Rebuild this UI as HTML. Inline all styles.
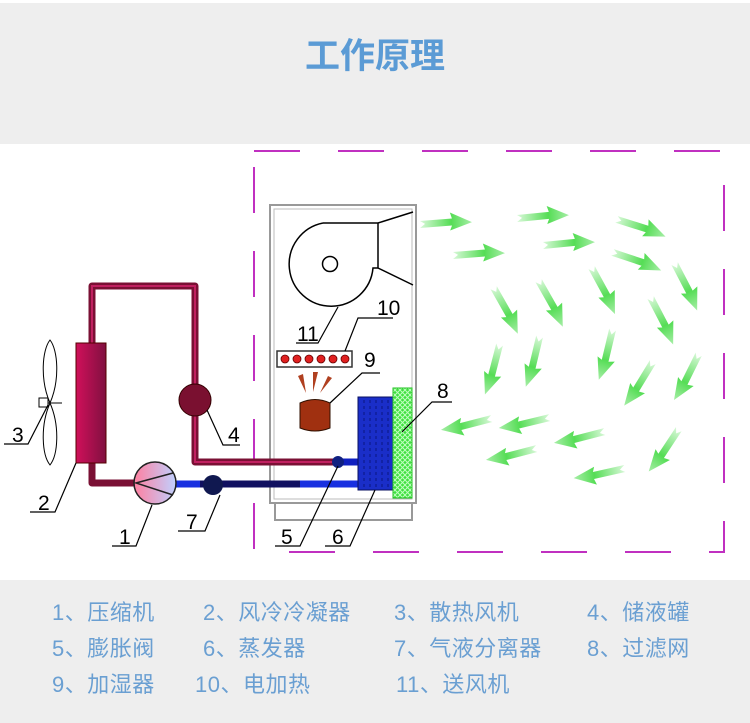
<!DOCTYPE html>
<html><head><meta charset="utf-8"><style>
body{margin:0;width:750px;height:723px;overflow:hidden;background:#fff;font-family:"Liberation Sans","Noto Sans CJK SC",sans-serif;}
.hdr{position:absolute;left:0;top:3px;width:750px;height:141px;background:#eeeeee;}
.title{position:absolute;left:0;width:750px;top:25px;text-align:center;font-size:35px;font-weight:bold;color:#5b9bd5;}
.leg{position:absolute;left:0;top:580px;width:750px;height:143px;background:#eeeeee;}
.l{position:absolute;font-size:22px;letter-spacing:0.5px;color:#6a9fd2;white-space:nowrap;}
svg{position:absolute;left:0;top:0}
</style></head><body>
<div class="hdr"><div class="title">工作原理</div></div>
<svg width="750" height="723" viewBox="0 0 750 723">
<defs>
<linearGradient id="g" x1="0" x2="1" y1="0" y2="0"><stop offset="0" stop-color="#d8f8d8"/><stop offset="0.6" stop-color="#55dd55"/><stop offset="1" stop-color="#a8eea8"/></linearGradient>
<linearGradient id="cond" x1="0" x2="1"><stop offset="0" stop-color="#d0105a"/><stop offset="1" stop-color="#801040"/></linearGradient>
<linearGradient id="comp" x1="0" x2="1"><stop offset="0" stop-color="#ff80a0"/><stop offset="1" stop-color="#c0d0ff"/></linearGradient>
<pattern id="mesh" width="5" height="5" patternUnits="userSpaceOnUse"><rect width="5" height="5" fill="#40e040"/><path d="M0 0L5 5M5 0L0 5" stroke="#c0ffc0" stroke-width="1"/></pattern>
<path id="ar" d="M0,-2 L32,-4 L30,-10 L52,0 L30,8 L32,3 L0,5 L5,1 Z" fill="url(#g)"/>
</defs>
<rect x="254" y="151" width="470" height="401" fill="none" stroke="#c030c0" stroke-width="2" stroke-dasharray="46,38"/>
<rect x="270" y="205" width="146" height="298" fill="none" stroke="#999" stroke-width="2"/>
<rect x="274" y="209" width="138" height="290" fill="none" stroke="#bbb" stroke-width="1"/>
<path d="M275,503 V520 H412 V503" fill="none" stroke="#999" stroke-width="2"/>
<path d="M323,223 H378 V268 M378,223 L413,212 M378,268 L413,285" fill="none" stroke="#000" stroke-width="1.5"/>
<path d="M323,223 A42,42 0 1 0 373,268 L378,268" fill="none" stroke="#000" stroke-width="1.5"/>
<circle cx="330" cy="264" r="7.5" fill="none" stroke="#000" stroke-width="1.5"/>
<rect x="277" y="351" width="75" height="16" fill="#fff" stroke="#333" stroke-width="1.5"/>
<g fill="#e02020" stroke="#600" stroke-width="0.8"><circle cx="285" cy="359" r="4"/><circle cx="297" cy="359" r="4"/><circle cx="309" cy="359" r="4"/><circle cx="321" cy="359" r="4"/><circle cx="333" cy="359" r="4"/><circle cx="345" cy="359" r="4"/></g>
<path d="M300,403 Q315,396 330,403 V428 Q315,434 300,428 Z" fill="#a03010" stroke="#301000"/>
<path d="M306,393 L298,376 L303,374 Z M313,392 L313,372 L318,372 Z M320,393 L328,376 L332,378 Z" fill="#b04020"/>
<path d="M92,343 V286 H195 V462 H340" fill="none" stroke="#7a1034" stroke-width="7" stroke-linejoin="round"/>
<path d="M92,343 V286 H195 V462 H340" fill="none" stroke="#c02060" stroke-width="2"/>
<path d="M340,462 H360" stroke="#1020c0" stroke-width="7"/>
<path d="M92,463 V483 H150" fill="none" stroke="#7a1034" stroke-width="7" stroke-linejoin="round"/>
<path d="M175,484 H360" stroke="#101060" stroke-width="7"/>
<path d="M175,484 H200 M300,484 H360" stroke="#1830e0" stroke-width="7"/>
<circle cx="195" cy="400" r="16" fill="#7a1030" stroke="#300"/>
<circle cx="338" cy="462" r="6" fill="#102080"/>
<circle cx="213" cy="485" r="10" fill="#101850"/>
<rect x="76" y="343" width="30" height="120" fill="url(#cond)" stroke="#500"/>
<circle cx="155" cy="483" r="21" fill="url(#comp)" stroke="#222" stroke-width="1.5"/>
<path d="M173,473 L136,483 L173,495" fill="none" stroke="#222" stroke-width="1.5"/>
<rect x="358" y="397" width="35" height="93" fill="#1a2ec8" stroke="#0a1060"/>
<g stroke="#0a1580" stroke-width="1" stroke-dasharray="3,3"><path d="M364,400V488M370,400V488M376,400V488M382,400V488M388,400V488"/></g>
<rect x="393" y="388" width="19" height="110" fill="url(#mesh)" stroke="#20c020"/>
<path d="M50,403 C40,380 42,350 50,340 C58,350 60,380 50,403 C40,426 42,455 50,465 C58,455 60,426 50,403" fill="none" stroke="#000" stroke-width="1"/>
<rect x="39" y="398" width="9" height="9" fill="#fff" stroke="#000"/><path d="M48,403 H62" stroke="#000"/>
<g stroke="#000" stroke-width="1.2" fill="none">
<path d="M4,444 H28 L48,405"/>
<path d="M30,512 H55 L76,463"/>
<path d="M112,546 H136 L152,505"/>
<path d="M178,531 H205 L220,495"/>
<path d="M207,410 L223,445 H240"/>
<path d="M275,546 H300 L338,466"/>
<path d="M325,546 H350 L375,490"/>
<path d="M296,343 H318 L338,307"/>
<path d="M345,351 L358,318 H393"/>
<path d="M330,403 L362,373 H380"/>
<path d="M402,432 L432,402 H452"/>
</g>
<g font-family="Liberation Sans, sans-serif" font-size="21" fill="#000">
<text x="12" y="442">3</text><text x="38" y="510">2</text><text x="119" y="544">1</text>
<text x="186" y="529">7</text><text x="228" y="442">4</text><text x="281" y="544">5</text>
<text x="332" y="544">6</text><text x="297" y="341">11</text><text x="377" y="315">10</text>
<text x="364" y="367">9</text><text x="437" y="398">8</text>
</g>
<g>
<use href="#ar" transform="translate(420,223) rotate(-1)"/>
<use href="#ar" transform="translate(517,217) rotate(-2)"/>
<use href="#ar" transform="translate(617,218) rotate(21)"/>
<use href="#ar" transform="translate(453,254) rotate(-1)"/>
<use href="#ar" transform="translate(543,244) rotate(-2)"/>
<use href="#ar" transform="translate(613,251) rotate(22)"/>
<use href="#ar" transform="translate(676,263) rotate(66)"/>
<use href="#ar" transform="translate(495,287) rotate(64)"/>
<use href="#ar" transform="translate(540,280) rotate(64)"/>
<use href="#ar" transform="translate(593,267) rotate(65)"/>
<use href="#ar" transform="translate(652,297) rotate(66)"/>
<use href="#ar" transform="translate(501,345) rotate(108)"/>
<use href="#ar" transform="translate(541,337) rotate(107)"/>
<use href="#ar" transform="translate(614,330) rotate(107)"/>
<use href="#ar" transform="translate(654,363) rotate(125)"/>
<use href="#ar" transform="translate(700,355) rotate(120)"/>
<use href="#ar" transform="translate(492,420) rotate(169)"/>
<use href="#ar" transform="translate(550,419) rotate(170)"/>
<use href="#ar" transform="translate(605,433) rotate(169)"/>
<use href="#ar" transform="translate(537,450) rotate(169)"/>
<use href="#ar" transform="translate(680,430) rotate(127)"/>
<use href="#ar" transform="translate(625,470) rotate(171)"/>
</g>
</svg>
<div class="leg">
<div class="l" style="left:52px;top:15px">1、压缩机</div>
<div class="l" style="left:203px;top:15px">2、风冷冷凝器</div>
<div class="l" style="left:394px;top:15px">3、散热风机</div>
<div class="l" style="left:587px;top:15px">4、储液罐</div>
<div class="l" style="left:52px;top:51px">5、膨胀阀</div>
<div class="l" style="left:203px;top:51px">6、蒸发器</div>
<div class="l" style="left:394px;top:51px">7、气液分离器</div>
<div class="l" style="left:587px;top:51px">8、过滤网</div>
<div class="l" style="left:52px;top:87px">9、加湿器</div>
<div class="l" style="left:195px;top:87px">10、电加热</div>
<div class="l" style="left:396px;top:87px">11、送风机</div>
</div>
</body></html>
